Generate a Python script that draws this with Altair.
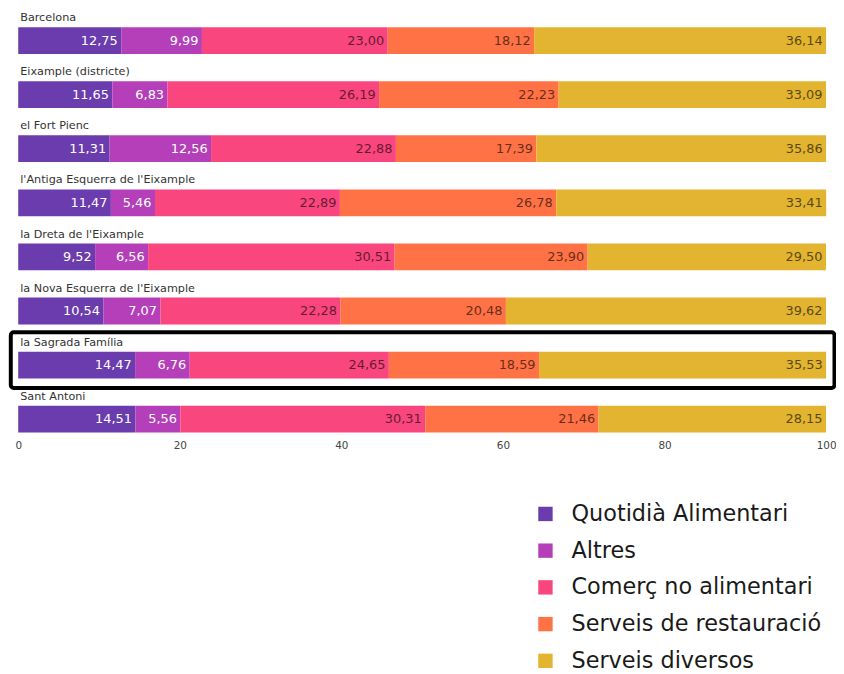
import altair as alt
import pandas as pd

regions = [
    "Barcelona",
    "Eixample (districte)",
    "el Fort Pienc",
    "l'Antiga Esquerra de l'Eixample",
    "la Dreta de l'Eixample",
    "la Nova Esquerra de l'Eixample",
    "la Sagrada Família",
    "Sant Antoni",
]
highlight = ["la Sagrada Família"]

categories = [
    "Quotidià Alimentari",
    "Altres",
    "Comerç no alimentari",
    "Serveis de restauració",
    "Serveis diversos",
]
colors = ["#6a3cae", "#b43fb8", "#f9467e", "#ff7245", "#e2b42f"]

quotidia = [12.75, 11.65, 11.31, 11.47, 9.52, 10.54, 14.47, 14.51]
altres = [9.99, 6.83, 12.56, 5.46, 6.56, 7.07, 6.76, 5.56]
comerc = [23.00, 26.19, 22.88, 22.89, 30.51, 22.28, 24.65, 30.31]
restauracio = [18.12, 22.23, 17.39, 26.78, 23.90, 20.48, 18.59, 21.46]
diversos = [36.14, 33.09, 35.86, 33.41, 29.50, 39.62, 35.53, 28.15]
series = [quotidia, altres, comerc, restauracio, diversos]

x_ticks = [0, 20, 40, 60, 80, 100]

rows = []
for i, r in enumerate(regions):
    for j, (c, vals) in enumerate(zip(categories, series)):
        v = vals[i]
        rows.append(dict(region=r, cat=c, order=j, value=v,
                         label=f"{v:.2f}".replace(".", ",")))
df = pd.DataFrame(rows)

FONT = "DejaVu Sans"

ysc = alt.Scale(domain=regions, paddingInner=0, paddingOuter=0)
y = alt.Y("region:N", scale=ysc, axis=None)
xsc = alt.Scale(domain=[0, 100], nice=False, zero=True)

base = alt.Chart(df).transform_stack(
    stack="value", groupby=["region"],
    sort=[alt.SortField("order", order="ascending")],
    as_=["v0", "v1"],
)

bars = base.mark_bar(size=27, yOffset=3).encode(
    x=alt.X("v0:Q", scale=xsc, title=None,
            axis=alt.Axis(values=x_ticks, grid=False, domain=False, ticks=False,
                          labelPadding=-3, labelFlush=False, labelFontSize=10.5,
                          labelColor="#444", labelFont=FONT)),
    x2="v1:Q",
    y=y,
    color=alt.Color("cat:N", sort=categories,
                    scale=alt.Scale(domain=categories, range=colors),
                    legend=alt.Legend(title=None, orient="none", legendX=520, legendY=496,
                                      direction="vertical", symbolType="square",
                                      symbolSize=210, symbolStrokeWidth=0,
                                      labelFontSize=22.5, labelFont=FONT, labelLimit=400,
                                      labelColor="#1a1a1a", rowPadding=14,
                                      labelOffset=15, padding=0)),
)

light = alt.FieldOneOfPredicate(field="cat", oneOf=categories[:2])
values_text = base.mark_text(align="right", baseline="middle", dx=-3.5, yOffset=3,
                             fontSize=13, font=FONT).encode(
    x=alt.X("v1:Q", scale=xsc),
    y=y,
    text="label:N",
    color=alt.condition(light, alt.value("white"), alt.value("black")),
    opacity=alt.condition(light, alt.value(1), alt.value(0.6)),
)

region_labels = alt.Chart(pd.DataFrame({"region": regions})).mark_text(
    align="left", baseline="middle", dx=2, yOffset=-19.5,
    fontSize=11.3, font=FONT, color="#333").encode(
    x=alt.datum(0),
    y=y,
    text="region:N",
)

box = alt.Chart(pd.DataFrame({"region": highlight})).mark_bar(
    size=56, yOffset=-2, fillOpacity=0, stroke="black", strokeWidth=4,
    cornerRadius=3).encode(
    x=alt.datum(-0.92),
    x2=alt.datum(101.04),
    y=y,
)

chart = alt.layer(bars, values_text, region_labels, box).properties(
    width=814, height=436,
    padding={"left": 10.3, "top": 0, "right": 10, "bottom": 230},
    autosize=alt.AutoSizeParams(type="none"),
).configure_view(stroke=None)

chart.save("out.html", embed_options={"renderer": "svg", "actions": False})
